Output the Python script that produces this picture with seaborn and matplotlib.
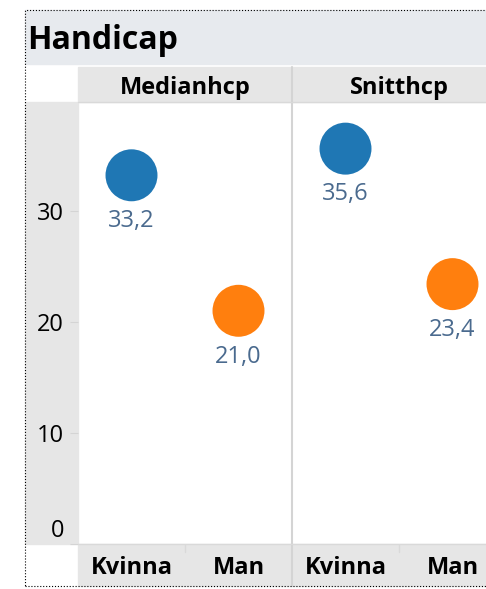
import matplotlib.pyplot as plt
import matplotlib.patches as mpatches
import matplotlib.lines as mlines
import matplotlib.transforms as mtransforms
import pandas as pd
import seaborn as sns

# data
kon = ['Kvinna', 'Man']
medianhcp = [33.2, 21.0]
snitthcp = [35.6, 23.4]
matt = ['Medianhcp', 'Snitthcp']
y_ticks = [0, 10, 20, 30]

df = pd.DataFrame({'kon': kon * 2,
                   'matt': [matt[0]] * 2 + [matt[1]] * 2,
                   'varde': medianhcp + snitthcp})

sns.set_style('white')
plt.rcParams['font.family'] = ['Open Sans', 'DejaVu Sans']
plt.rcParams['text.color'] = 'black'
plt.rcParams['xtick.color'] = 'black'
plt.rcParams['ytick.color'] = 'black'

W, H = 486, 589
fig = plt.figure(figsize=(W / 100, H / 100), dpi=100)

def fx(px):
    return px / W

def fy(py):
    return 1 - py / H

grey = '#e6e6e6'
line_c = '#d4d4d4'
lbl_c = '#4a6a8e'

# title band
fig.patches.append(mpatches.Rectangle((fx(25), fy(64)), fx(470), (54) / H,
                                      transform=fig.transFigure, color='#e7eaee', zorder=-1))
fig.text(fx(27), fy(49), 'Handicap', fontsize=23, fontweight='bold', va='baseline', ha='left')

# header row, y band, bottom header
fig.patches.append(mpatches.Rectangle((fx(78), fy(102)), fx(420), 35 / H,
                                      transform=fig.transFigure, color=grey, zorder=-1))
fig.patches.append(mpatches.Rectangle((fx(25), fy(544)), fx(53), 442 / H,
                                      transform=fig.transFigure, color=grey, zorder=-1))
fig.patches.append(mpatches.Rectangle((fx(78), fy(586)), fx(420), 42 / H,
                                      transform=fig.transFigure, color=grey, zorder=-1))

pal = ['#1f77b4', '#ff7f0e']
left0, pw = 78, 214
for i, m in enumerate(matt):
    ax = fig.add_axes([fx(left0 + i * pw), fy(544), fx(pw), 442 / H])
    ax.patch.set_alpha(0)
    sub = df[df['matt'] == m]
    sns.scatterplot(data=sub, x='kon', y='varde', hue='kon', palette=pal, s=1400,
                    linewidth=0, legend=False, ax=ax, zorder=3)
    for _, r in sub.iterrows():
        ax.annotate(f"{r['varde']:.1f}".replace('.', ','), (r['kon'], r['varde']),
                    xytext=(0, -33), textcoords='offset points',
                    ha='center', va='center', fontsize=17, color=lbl_c)
    ax.set_xlim(-0.5, 1.5)
    ax.set_ylim(0, 39.8)
    ax.set_title(m, fontsize=17, fontweight='bold', y=1 + 14 / 442, va='center', pad=0)
    ax.set_xlabel('')
    ax.set_ylabel('')
    ax.set_xticks(range(len(kon)))
    ax.set_xticklabels(kon, fontsize=17, fontweight='bold')
    ax.tick_params(axis='x', length=0, pad=9)
    for s in ax.spines.values():
        s.set_visible(False)
    if i == 0:
        ax.set_yticks(y_ticks)
        ax.set_yticklabels([str(t) for t in y_ticks], fontsize=17)
        ax.tick_params(axis='y', length=6, color=line_c, pad=4, left=True)
        zero = ax.get_yticklabels()[0]
        zero.set_transform(zero.get_transform() +
                           mtransforms.ScaledTranslation(0, 16 / 100, fig.dpi_scale_trans))
    else:
        ax.set_yticks([])
    # small divider between categories in bottom header
    fig.lines.append(mlines.Line2D([fx(left0 + i * pw + pw / 2)] * 2, [fy(545), fy(552)],
                                   transform=fig.transFigure, color='#d9d9d9', lw=1))

# divider lines
fig.lines.append(mlines.Line2D([fx(292)] * 2, [fy(67), fy(586)],
                               transform=fig.transFigure, color=line_c, lw=1.5))
fig.lines.append(mlines.Line2D([fx(78), fx(486)], [fy(544)] * 2,
                               transform=fig.transFigure, color='#d9d9d9', lw=1))
fig.lines.append(mlines.Line2D([fx(78), fx(486)], [fy(102)] * 2,
                               transform=fig.transFigure, color='#d9d9d9', lw=1))

# dotted outer border
fig.patches.append(mpatches.Rectangle((fx(25), fy(586)), fx(480), 576 / H,
                                      transform=fig.transFigure, fill=False,
                                      edgecolor='black', lw=0.8, ls=':', zorder=5))

fig.savefig('out.png', dpi=100)
